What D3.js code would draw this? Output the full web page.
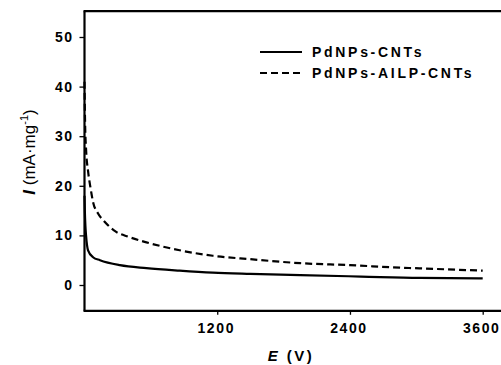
<!DOCTYPE html>
<html>
<head>
<meta charset="utf-8">
<script src="https://cdn.jsdelivr.net/npm/d3@7"></script>
<style>
  html, body { margin: 0; padding: 0; background: #fff; }
  svg { display: block; }
  text { font-family: "Liberation Sans", Arial, sans-serif; }
</style>
</head>
<body>
<svg id="chart" width="501" height="365"></svg>
<script>
// ---- data ----
const seriesNames = ["PdNPs-CNTs", "PdNPs-AILP-CNTs"];
const xTicks = [1200, 2400, 3600];
const yTicks = [0, 10, 20, 30, 40, 50];

const solidE = [0, 3, 8, 14, 32, 77, 140, 320, 560, 860, 1160, 1500, 1950, 2500, 3030, 3600];
const solidI = [18, 15, 12, 10, 7, 5.6, 5.0, 4.0, 3.4, 2.9, 2.5, 2.25, 2.0, 1.7, 1.42, 1.35];

const dashE = [0, 5, 15, 32, 55, 80, 120, 180, 280, 400, 560, 860, 1160, 1500, 1950, 2400, 2850, 3030, 3600];
const dashI = [41, 33, 27, 23, 19.5, 16.5, 14.5, 12.8, 10.8, 9.7, 8.6, 7.0, 5.9, 5.2, 4.4, 4.0, 3.5, 3.35, 2.9];

// ---- scales ----
const svg = d3.select("#chart");
const x = d3.scaleLinear().domain([0, 3600]).range([84.5, 482.7]);
const y = d3.scaleLinear().domain([0, 50]).range([285, 37]);
const yMin = -5.2, yMax = 55.2;

const g = svg.append("g");

// frame (left, top, bottom; open right)
g.append("line").attr("x1", x(0)).attr("x2", x(0)).attr("y1", y(yMax)).attr("y2", y(yMin))
  .attr("stroke", "#000").attr("stroke-width", 2.2);
g.append("line").attr("x1", x(0) - 1).attr("x2", 501).attr("y1", y(yMax)).attr("y2", y(yMax))
  .attr("stroke", "#000").attr("stroke-width", 2.2);
g.append("line").attr("x1", x(0) - 1).attr("x2", 501).attr("y1", y(yMin)).attr("y2", y(yMin))
  .attr("stroke", "#000").attr("stroke-width", 2.2);

// y axis
const yAxis = d3.axisLeft(y).tickValues(yTicks).tickSize(5).tickPadding(6).tickFormat(d3.format("d"));
const ya = g.append("g").attr("transform", `translate(${x(0)},0)`).call(yAxis);
ya.select(".domain").remove();
ya.selectAll(".tick line").attr("stroke", "#000").attr("stroke-width", 1.3);
ya.selectAll(".tick text").attr("font-size", 14).attr("font-weight", "bold")
  .attr("font-family", "Liberation Sans, Arial, sans-serif").attr("letter-spacing", 1.5).attr("fill", "#000");

// x axis
const xAxis = d3.axisBottom(x).tickValues(xTicks).tickSize(4).tickPadding(8).tickFormat(d3.format("d"));
const xa = g.append("g").attr("transform", `translate(0,${y(yMin)})`).call(xAxis);
xa.select(".domain").remove();
xa.selectAll(".tick line").attr("stroke", "#000").attr("stroke-width", 1.3);
xa.selectAll(".tick text").attr("font-size", 14).attr("font-weight", "bold")
  .attr("font-family", "Liberation Sans, Arial, sans-serif").attr("letter-spacing", 1.6)
  .attr("dx", -1.5).attr("fill", "#000");

// axis titles
const xt = g.append("text").attr("x", 291).attr("y", 361).attr("text-anchor", "middle")
  .attr("font-size", 15).attr("font-weight", "bold").attr("letter-spacing", 2.5);
xt.append("tspan").attr("font-style", "italic").text("E");
xt.append("tspan").text(" (V)");

const yt = g.append("text").attr("transform", "translate(35,152) rotate(-90)")
  .attr("text-anchor", "middle").attr("font-size", 17);
yt.append("tspan").attr("font-style", "italic").attr("font-weight", "bold").text("I");
yt.append("tspan").text(" (mA·mg");
yt.append("tspan").attr("font-size", 11).attr("dy", -7).text("-1");
yt.append("tspan").attr("dy", 7).text(")");

// lines
const line = d3.line().x(d => x(d[0])).y(d => y(d[1])).curve(d3.curveMonotoneX);
const solidData = solidE.map((e, i) => [e, solidI[i]]);
const dashData = dashE.map((e, i) => [e, dashI[i]]);

g.append("path").datum(dashData).attr("d", line).attr("fill", "none")
  .attr("stroke", "#000").attr("stroke-width", 2.2).attr("stroke-dasharray", "7,4");
g.append("path").datum(solidData).attr("d", line).attr("fill", "none")
  .attr("stroke", "#000").attr("stroke-width", 2.2);

// legend
const legend = g.append("g");
const legY = [52, 73];
const dashes = [null, "7,4"];
seriesNames.forEach((name, i) => {
  legend.append("line").attr("x1", 260).attr("x2", 302).attr("y1", legY[i]).attr("y2", legY[i])
    .attr("stroke", "#000").attr("stroke-width", 2).attr("stroke-dasharray", dashes[i]);
  legend.append("text").attr("x", 312).attr("y", legY[i] + 5).attr("font-size", 14)
    .attr("font-weight", "bold").attr("letter-spacing", 2.7).text(name);
});
</script>
</body>
</html>
